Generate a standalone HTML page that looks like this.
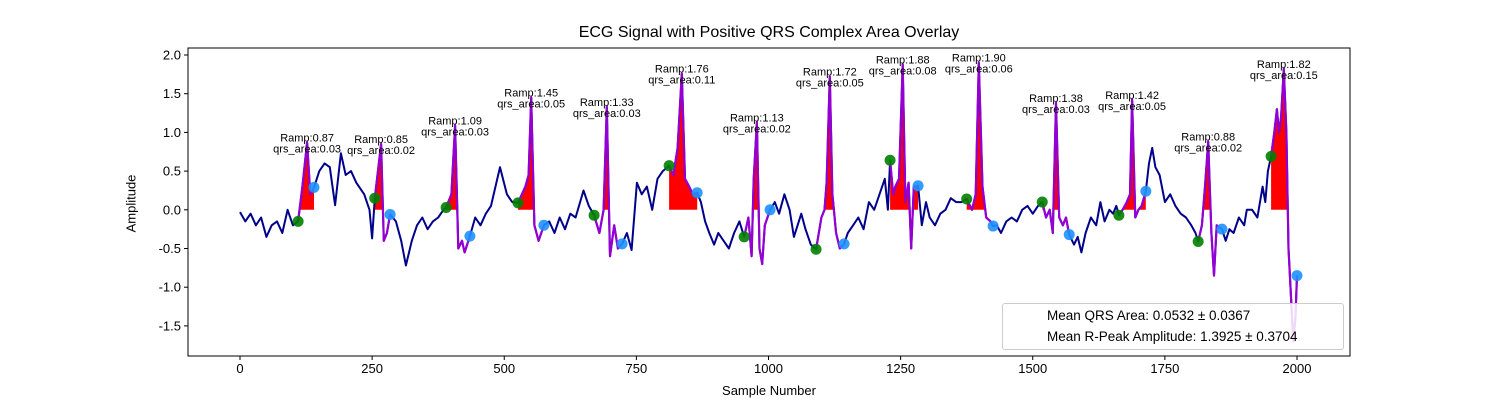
<!DOCTYPE html>
<html><head><meta charset="utf-8"><style>
body{margin:0;background:#fff;}
svg{display:block;font-family:"Liberation Sans","DejaVu Sans",sans-serif;}
</style></head><body>
<svg id="c" width="1500" height="400" xmlns="http://www.w3.org/2000/svg"></svg>
<script>
const sampleIdx=[0,10,20,30,40,50,60,70,80,90,100,110,118,127,133,140,150,160,170,180,191,200,210,220,235,245,250,255,267,272,278,284,295,305,314,325,335,345,355,365,375,385,390,400,407,413,420,425,435,445,455,465,475,492,505,515,526,540,546,551,557,565,575,585,595,605,615,625,635,650,660,670,680,688,694,700,708,715,723,732,741,751,760,770,780,790,800,812,820,828,836,842,850,857,865,872,880,888,897,905,915,925,935,945,954,962,968,972,978,983,988,993,1003,1012,1020,1030,1040,1048,1055,1062,1070,1080,1090,1100,1106,1110,1116,1121,1128,1135,1143,1150,1160,1170,1180,1190,1200,1210,1220,1226,1230,1236,1240,1247,1254,1259,1265,1270,1275,1283,1290,1298,1305,1315,1325,1335,1345,1355,1365,1375,1385,1392,1398,1405,1412,1420,1425,1432,1440,1450,1460,1470,1480,1490,1500,1510,1518,1525,1532,1538,1544,1550,1557,1563,1569,1578,1585,1592,1600,1610,1620,1628,1636,1645,1652,1658,1663,1670,1678,1684,1688,1694,1700,1706,1714,1720,1726,1732,1740,1750,1760,1770,1780,1790,1800,1808,1813,1820,1826,1832,1838,1843,1848,1858,1865,1872,1880,1890,1900,1905,1915,1925,1935,1940,1945,1951,1957,1962,1966,1970,1975,1980,1984,1990,1993,1997,2000];
const amplitude=[-0.03,-0.15,-0.05,-0.2,-0.1,-0.35,-0.2,-0.15,-0.3,0.0,-0.2,-0.15,0.3,0.87,0.2,0.29,0.5,0.6,0.55,0.06,0.73,0.45,0.5,0.35,0.2,0.0,-0.37,0.15,0.85,-0.4,-0.3,-0.06,-0.15,-0.4,-0.72,-0.4,-0.2,-0.1,-0.25,-0.15,-0.1,0.0,0.03,0.2,1.09,-0.5,-0.4,-0.55,-0.34,-0.1,-0.2,-0.05,0.05,0.55,0.2,0.1,0.09,0.3,0.45,1.45,-0.2,-0.4,-0.2,-0.15,-0.3,-0.1,-0.25,-0.05,-0.1,0.25,0.05,-0.07,-0.3,0.0,1.33,-0.6,-0.2,-0.5,-0.44,-0.3,-0.52,0.35,0.2,0.3,0.0,0.4,0.5,0.57,0.45,0.8,1.76,0.4,0.3,0.2,0.22,0.1,-0.15,-0.3,-0.45,-0.3,-0.4,-0.5,-0.3,-0.15,-0.35,-0.1,-0.6,0.4,1.13,-0.5,-0.7,-0.2,0.0,0.1,-0.05,0.2,0.0,-0.35,-0.2,-0.05,-0.25,-0.45,-0.51,-0.1,0.0,0.35,1.72,0.2,-0.3,-0.5,-0.44,-0.3,-0.2,-0.1,-0.25,0.1,0.0,0.2,0.4,0.0,0.64,0.2,0.3,0.4,1.88,0.1,0.35,-0.5,0.3,0.31,-0.2,0.1,-0.1,-0.2,-0.05,0.0,0.15,0.1,0.1,0.14,0.0,0.2,1.90,0.3,-0.1,-0.15,-0.21,-0.2,-0.3,-0.15,-0.1,-0.15,0.0,0.05,-0.05,0.05,0.1,-0.1,0.0,-0.3,1.38,-0.1,-0.2,-0.1,-0.32,-0.45,-0.35,-0.55,-0.3,-0.1,-0.2,0.1,-0.15,0.0,-0.05,0.05,-0.07,0.0,0.1,0.2,1.42,-0.1,0.0,0.05,0.24,0.6,0.8,0.55,0.45,0.1,0.2,0.05,-0.05,-0.1,-0.2,-0.3,-0.41,-0.2,0.3,0.88,-0.3,-0.85,-0.2,-0.25,-0.4,-0.25,-0.3,-0.1,-0.2,0.0,0.0,-0.1,0.3,0.1,0.5,0.69,1.0,1.3,1.0,1.2,1.82,1.0,-0.5,-1.3,-1.7,-1.4,-0.85];
const onsetIdx=[110,255,390,526,670,812,954,1090,1230,1375,1518,1663,1813,1951];
const peakIdx=[127,267,407,551,694,836,978,1116,1254,1398,1544,1688,1832,1975];
const offsetIdx=[140,284,435,575,723,865,1003,1143,1283,1425,1569,1714,1858,2000];
const rAmp=["0.87","0.85","1.09","1.45","1.33","1.76","1.13","1.72","1.88","1.90","1.38","1.42","0.88","1.82"];
const qrsArea=["0.03","0.02","0.03","0.05","0.03","0.11","0.02","0.05","0.08","0.06","0.03","0.05","0.02","0.15"];
const xTicks=[0,250,500,750,1000,1250,1500,1750,2000];
const yTicks=[2.0,1.5,1.0,0.5,0.0,-0.5,-1.0,-1.5];

const NS="http://www.w3.org/2000/svg";
const svg=document.getElementById('c');
const L=188,R=1350,T=48,B=356;
const X=s=>240+s*0.5285;
const Y=v=>209.8-v*77.4;
function mk(t,a,p){const e=document.createElementNS(NS,t);for(const k in a)e.setAttribute(k,a[k]);(p||svg).appendChild(e);return e;}
function valAt(s){for(let i=0;i<sampleIdx.length-1;i++){if(s>=sampleIdx[i]&&s<=sampleIdx[i+1]){const f=(s-sampleIdx[i])/(sampleIdx[i+1]-sampleIdx[i]||1);return amplitude[i]+f*(amplitude[i+1]-amplitude[i]);}}return amplitude[amplitude.length-1];}

// red positive area fills
for(let b=0;b<onsetIdx.length;b++){
  let pts=[[onsetIdx[b],0]];
  for(let s=onsetIdx[b];s<=offsetIdx[b];s++)pts.push([s,Math.max(0,valAt(s))]);
  pts.push([offsetIdx[b],0]);
  const e=mk('polygon',{points:pts.map(p=>X(p[0]).toFixed(1)+','+Y(p[1]).toFixed(1)).join(' '),fill:'#ff0000'});
  
  
}
// main signal
const line=mk('polyline',{points:sampleIdx.map((s,i)=>X(s).toFixed(1)+','+Y(amplitude[i]).toFixed(1)).join(' '),fill:'none',stroke:'#00008b','stroke-width':2,'stroke-linejoin':'round'});


// qrs overlays
for(let b=0;b<onsetIdx.length;b++){
  let pts=[];
  for(let s=onsetIdx[b];s<=offsetIdx[b];s++){if(s===onsetIdx[b]||s===offsetIdx[b]||sampleIdx.includes(s))pts.push([s,valAt(s)]);}
  const e=mk('polyline',{points:pts.map(p=>X(p[0]).toFixed(1)+','+Y(p[1]).toFixed(1)).join(' '),fill:'none',stroke:'#9400d3','stroke-width':2.2,'stroke-linejoin':'round'});
  
  
}
// markers and annotations
for(let b=0;b<onsetIdx.length;b++){
  const g=mk('circle',{cx:X(onsetIdx[b]),cy:Y(valAt(onsetIdx[b])),r:5.5,fill:'#008000','fill-opacity':0.9});
  
  
  const o=mk('circle',{cx:X(offsetIdx[b]),cy:Y(valAt(offsetIdx[b])),r:5.5,fill:'#1e90ff','fill-opacity':0.9});
  
  
  const px=X(peakIdx[b]),py=Y(valAt(peakIdx[b]));
  const t1=mk('text',{x:px,y:py-1,'font-size':11,'text-anchor':'middle',fill:'#000'});
  t1.textContent='Ramp:'+rAmp[b];
  
  
  const t2=mk('text',{x:px,y:py+10,'font-size':11,'text-anchor':'middle',fill:'#000'});
  t2.textContent='qrs_area:'+qrsArea[b];
  
  
}
// axes frame
const fr=mk('rect',{x:L,y:T,width:R-L,height:B-T,fill:'none',stroke:'#000','stroke-width':1});


xTicks.forEach(v=>{
  const e=mk('line',{x1:X(v),x2:X(v),y1:B,y2:B+4,stroke:'#000'});
  
  
  const t=mk('text',{x:X(v),y:B+17,'font-size':13,'text-anchor':'middle'});
  t.textContent=v;
  
  
});
yTicks.forEach(v=>{
  const e=mk('line',{x1:L-4,x2:L,y1:Y(v),y2:Y(v),stroke:'#000'});
  
  
  const t=mk('text',{x:L-7,y:Y(v)+4.5,'font-size':13,'text-anchor':'end'});
  t.textContent=v.toFixed(1);
  
  
});
</script>
<svg width="0" height="0"></svg>
<div style="position:absolute;left:0;top:0;width:1500px;height:400px;pointer-events:none;font-family:'Liberation Sans','DejaVu Sans',sans-serif;">
  <div style="position:absolute;left:0;width:1538px;top:24px;text-align:center;font-size:16px;">ECG Signal with Positive QRS Complex Area Overlay</div>
  <div style="position:absolute;left:669px;width:200px;top:383px;text-align:center;font-size:13px;">Sample Number</div>
  <div style="position:absolute;left:81px;top:196px;width:100px;text-align:center;font-size:13px;transform:rotate(-90deg);">Amplitude</div>
  <div style="position:absolute;left:1002px;top:303px;width:340px;height:45px;background:rgba(255,255,255,0.85);border:1px solid #ccc;border-radius:3px;font-size:13.5px;">
    <div style="position:absolute;left:44px;top:4px;">Mean QRS Area: 0.0532 ± 0.0367</div>
    <div style="position:absolute;left:44px;top:25px;">Mean R-Peak Amplitude: 1.3925 ± 0.3704</div>
  </div>
</div>
</body></html>
